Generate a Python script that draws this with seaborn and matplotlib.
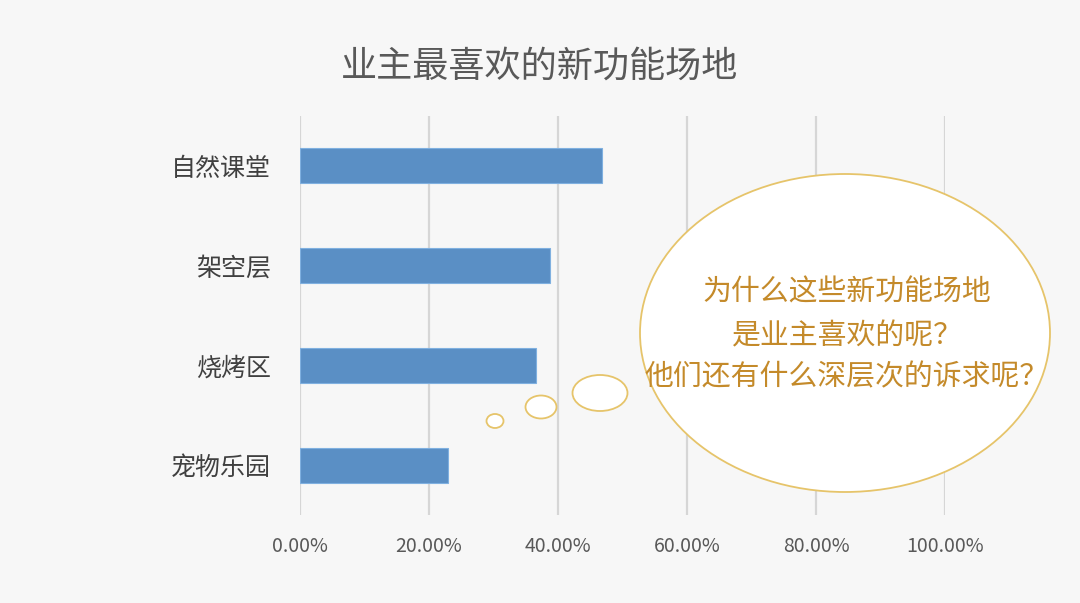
import matplotlib
matplotlib.use('Agg')
import matplotlib.pyplot as plt
from matplotlib.patches import Ellipse
import matplotlib.ticker as mticker
import pandas as pd
import seaborn as sns

# data
categories = ['自然课堂', '架空层', '烧烤区', '宠物乐园']
shares = [0.468, 0.388, 0.366, 0.229]
xticks = [0.0, 0.2, 0.4, 0.6, 0.8, 1.0]

title = '业主最喜欢的新功能场地'
bubble_lines = ['为什么这些新功能场地', '是业主喜欢的呢？', '他们还有什么深层次的诉求呢？']

BG = '#f7f7f7'
BAR = '#5a8fc5'
GRID = '#d6d6d6'
GOLD = '#e6c46a'
TEXT_GOLD = '#c48a2a'

sns.set_theme(style='white')
plt.rcParams['font.family'] = ['Noto Sans CJK SC', 'DejaVu Sans']

df = pd.DataFrame({'category': categories, 'share': shares})

fig = plt.figure(figsize=(10.8, 6.03), dpi=100)
fig.patch.set_facecolor(BG)
ax = fig.add_axes([300/1080, 1-515/603, 645/1080, 399/603])
ax.set_facecolor(BG)

sns.barplot(data=df, x='share', y='category', orient='h', color=BAR,
            width=0.35, saturation=1, edgecolor='#7fb0e0', linewidth=0.8,
            ax=ax, zorder=3)

ax.set_xlim(0, 1.0)
ax.set_xticks(xticks)
ax.xaxis.set_major_formatter(mticker.FuncFormatter(lambda v, p: f'{v*100:.2f}%'))
ax.grid(axis='x', color=GRID, linewidth=1.6, zorder=0)
ax.grid(axis='y', visible=False)
for s in ax.spines.values():
    s.set_visible(False)
ax.tick_params(axis='x', length=0, pad=15, labelsize=14, labelcolor='#595959')
ax.tick_params(axis='y', length=0, pad=21, labelsize=18, labelcolor='#404040')
ax.set_xlabel('')
ax.set_ylabel('')

fig.text(0.5, 1-67/603, title, ha='center', va='center', fontsize=26, color='#595959')

# thought bubble overlay in pixel coordinates
ov = fig.add_axes([0, 0, 1, 1], zorder=5)
ov.set_xlim(0, 1080)
ov.set_ylim(603, 0)
ov.axis('off')
ov.patch.set_alpha(0)
for (cx, cy, w, h) in [(845, 333, 410, 318), (600, 393, 55, 36),
                       (541, 407, 31, 23), (495, 421, 17, 14)]:
    ov.add_patch(Ellipse((cx, cy), w, h, facecolor='white', edgecolor=GOLD, linewidth=1.3))
for txt, y in zip(bubble_lines, [293, 336, 377]):
    ov.text(847, y, txt, ha='center', va='center', fontsize=20.8, color=TEXT_GOLD)

fig.savefig('out.png', dpi=100, facecolor=BG)
